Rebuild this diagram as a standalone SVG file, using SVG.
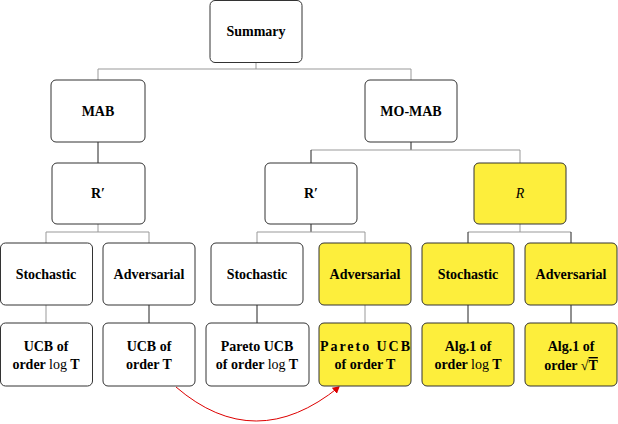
<svg xmlns="http://www.w3.org/2000/svg" width="618" height="424" viewBox="0 0 618 424">
<defs>
<style>
.b{fill:#fff;stroke:#333;stroke-width:1}
.y{fill:#fdee3c;stroke:#333;stroke-width:1}
.t{font-family:"Liberation Serif",serif;font-weight:bold;font-size:14px;text-anchor:middle;fill:#000}
.c{fill:none;stroke:#999;stroke-width:1}
.k{fill:none;stroke:#222;stroke-width:1}
</style>
<marker id="ah" markerWidth="8" markerHeight="8" refX="6" refY="4" orient="auto" markerUnits="userSpaceOnUse"><path d="M0,0 L7,4 L0,8 Z" fill="#d00"/></marker>
</defs>
<g id="connectors">
<path class="c" d="M256,62V69M98,69H411M98,69V80M411,69V80"/>
<path class="k" d="M98,142V163M411,142V150"/>
<path class="c" d="M311,150H520M520,150V163"/>
<path class="k" d="M311,150V163"/>
<path class="c" d="M98,224V232M46,232H149M46,232V243M149,232V243"/>
<path class="k" d="M311,224V232"/>
<path class="c" d="M257,232H365M257,232V243M365,232V243"/>
<path class="c" d="M520,224V232M468,232H571"/>
<path class="k" d="M468,232V243M571,232V243"/>
<path class="c" d="M46,305V323M365,305V323"/>
<path class="k" d="M149,305V323M257,305V323M468,305V323M571,305V323"/>
<path d="M176,387 Q255,455 339,387" fill="none" stroke="#d00" stroke-width="1" marker-end="url(#ah)"/>
</g>
<g id="summary"><rect class="b" x="210" y="0.5" width="92" height="62" rx="5"/><text class="t" x="256" y="36">Summary</text></g>
<g id="mab"><rect class="b" x="51" y="80" width="94" height="62" rx="5"/><text class="t" x="98" y="116">MAB</text></g>
<g id="momab"><rect class="b" x="365" y="80" width="92" height="62" rx="5"/><text class="t" x="411" y="116">MO-MAB</text></g>
<g id="r1"><rect class="b" x="52" y="163" width="93" height="61" rx="5"/><text class="t" x="98" y="198">R′</text></g>
<g id="r2"><rect class="b" x="265" y="163" width="92" height="61" rx="5"/><text class="t" x="311" y="198">R′</text></g>
<g id="r3"><rect class="y" x="474" y="163" width="92" height="61" rx="5"/><text class="t" x="520" y="198" style="font-weight:normal;font-style:italic">R</text></g>
<g id="s1"><rect class="b" x="0.5" y="243" width="92" height="62" rx="5"/><text class="t" x="46" y="279">Stochastic</text></g>
<g id="a1"><rect class="b" x="103" y="243" width="92" height="62" rx="5"/><text class="t" x="149" y="279">Adversarial</text></g>
<g id="s2"><rect class="b" x="211" y="243" width="92" height="62" rx="5"/><text class="t" x="257" y="279">Stochastic</text></g>
<g id="a2"><rect class="y" x="319" y="243" width="92" height="62" rx="5"/><text class="t" x="365" y="279">Adversarial</text></g>
<g id="s3"><rect class="y" x="422" y="243" width="92" height="62" rx="5"/><text class="t" x="468" y="279">Stochastic</text></g>
<g id="a3"><rect class="y" x="525" y="243" width="92" height="62" rx="5"/><text class="t" x="571" y="279">Adversarial</text></g>
<g id="u1"><rect class="b" x="0.5" y="323" width="92" height="63" rx="5"/><text class="t" x="46" y="351">UCB of</text><text class="t" x="46" y="369">order <tspan font-weight="normal">log</tspan> T</text></g>
<g id="u2"><rect class="b" x="103" y="323" width="92" height="63" rx="5"/><text class="t" x="149" y="351">UCB of</text><text class="t" x="149" y="369">order T</text></g>
<g id="u3"><rect class="b" x="206" y="323" width="103" height="63" rx="5"/><text class="t" x="257" y="351">Pareto UCB</text><text class="t" x="257" y="369">of order <tspan font-weight="normal">log</tspan> T</text></g>
<g id="u4"><rect class="y" x="319" y="323" width="92" height="63" rx="5"/><text class="t" x="365" y="351" textLength="90">Pareto UCB</text><text class="t" x="365" y="369">of order T</text></g>
<g id="u5"><rect class="y" x="422" y="323" width="92" height="63" rx="5"/><text class="t" x="468" y="351">Alg.1 of</text><text class="t" x="468" y="369">order <tspan font-weight="normal">log</tspan> T</text></g>
<g id="u6"><rect class="y" x="525" y="323" width="92" height="63" rx="5"/><text class="t" x="571" y="351">Alg.1 of</text><text class="t" x="571" y="370">order <tspan font-weight="normal">√</tspan><tspan text-decoration="overline">T</tspan></text></g>
</svg>
